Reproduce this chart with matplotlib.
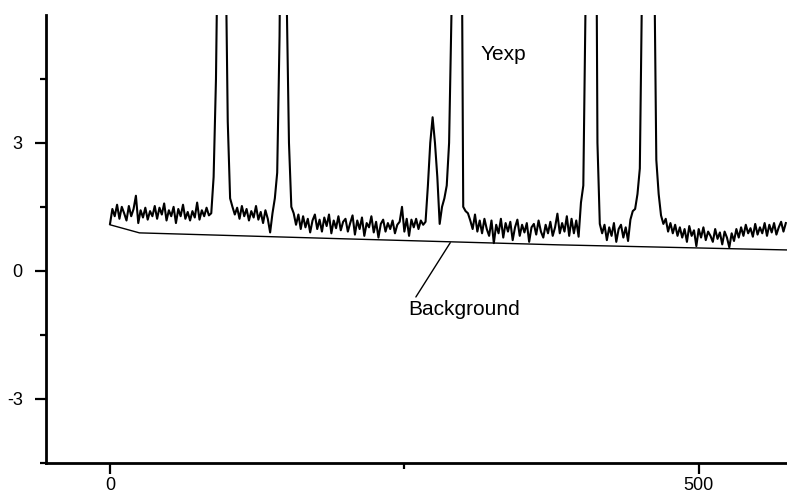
import numpy as np
from matplotlib import pyplot as plt

'''
0) data read off the picture
'''
# x step of 2 channels, 0 .. 574
x_step = 2
yexp = [1.10, 1.45, 1.28, 1.55, 1.22, 1.50, 1.35, 1.18, 1.52, 1.28,   # 0-18
        1.45, 1.76, 1.12, 1.42, 1.25, 1.48, 1.20, 1.40, 1.28, 1.52,   # 20-38
        1.22, 1.48, 1.32, 1.58, 1.18, 1.42, 1.28, 1.50, 1.12, 1.45,   # 40-58
        1.28, 1.55, 1.22, 1.38, 1.18, 1.40, 1.25, 1.60, 1.20, 1.42,   # 60-78
        1.28, 1.48, 1.30, 1.35, 2.20, 4.50, 9.00, 14.0, 14.0, 8.00,   # 80-98
        3.50, 1.70, 1.50, 1.32, 1.48, 1.22, 1.52, 1.28, 1.45, 1.18,   # 100-118
        1.40, 1.25, 1.52, 1.20, 1.38, 1.12, 1.42, 1.22, 0.90, 1.35,   # 120-138
        1.70, 2.30, 5.50, 12.0, 13.0, 6.50, 3.00, 1.50, 1.35, 1.08,   # 140-158
        1.32, 0.98, 1.28, 1.02, 1.22, 0.90, 1.18, 1.32, 0.98, 1.20,   # 160-178
        0.92, 1.25, 1.05, 1.32, 0.88, 1.18, 1.00, 1.28, 0.95, 1.15,   # 180-198
        1.22, 0.92, 1.12, 1.30, 0.85, 1.18, 0.98, 1.25, 0.82, 1.12,   # 200-218
        1.02, 1.28, 0.90, 1.15, 0.78, 1.10, 1.20, 0.92, 1.12, 0.98,   # 220-238
        1.18, 0.88, 1.08, 1.15, 1.50, 0.92, 1.22, 0.82, 1.20, 1.02,   # 240-258
        1.22, 0.98, 1.18, 1.08, 1.15, 2.00, 3.00, 3.60, 3.00, 2.20,   # 260-278
        1.10, 1.50, 1.70, 2.00, 3.00, 6.00, 14.0, 18.0, 18.0, 12.0,   # 280-298
        1.50, 1.40, 1.35, 1.18, 0.98, 1.32, 0.92, 1.18, 0.88, 1.22,   # 300-318
        0.98, 0.82, 1.18, 0.65, 1.08, 0.88, 1.22, 0.78, 1.12, 0.92,   # 320-338
        1.15, 0.72, 1.02, 1.20, 0.82, 1.08, 0.90, 1.12, 0.68, 1.02,   # 340-358
        1.10, 0.85, 1.18, 0.92, 0.78, 1.08, 0.88, 1.15, 0.82, 1.02,   # 360-378
        1.34, 0.88, 1.12, 0.92, 1.28, 0.82, 1.22, 0.88, 1.18, 0.80,   # 380-398
        1.60, 2.00, 6.50, 14.0, 18.0, 18.0, 14.0, 3.00, 1.10, 0.88,   # 400-418
        1.08, 0.72, 1.02, 0.82, 1.12, 0.68, 0.98, 1.08, 0.78, 1.02,   # 420-438
        0.70, 1.20, 1.40, 1.45, 1.80, 2.40, 7.00, 15.0, 20.0, 20.0,   # 440-458
        15.0, 8.00, 2.60, 1.80, 1.30, 1.10, 1.22, 0.92, 1.12, 0.88,   # 460-478
        1.08, 0.82, 1.02, 0.78, 0.98, 0.68, 1.05, 0.82, 0.95, 0.58,   # 480-498
        0.98, 0.78, 1.02, 0.72, 0.92, 0.82, 0.68, 0.98, 0.75, 0.90,   # 500-518
        0.62, 0.92, 0.78, 0.55, 0.88, 0.70, 0.98, 0.78, 1.02, 0.82,   # 520-538
        1.08, 0.88, 1.00, 0.80, 1.10, 0.85, 1.02, 0.88, 1.12, 0.82,   # 540-558
        1.08, 0.90, 1.12, 0.85, 1.02, 1.15, 0.92, 1.12]               # 560-574

bg_x = [0, 25, 200, 380, 575]
bg_y = [1.08, 0.89, 0.75, 0.61, 0.49]

x_ticks = [0, 500]
x_minor = [250]
y_ticks = [-3, 0, 3]
y_minor = [-4.5, -1.5, 1.5, 4.5]

'''
1) plotting
'''
plt.rcParams['font.family'] = ['Liberation Sans', 'DejaVu Sans']
plt.rcParams['axes.unicode_minus'] = False

fig = plt.figure(figsize=(7.87, 4.94), dpi=100)
ax = fig.add_axes([0.059, 0.063, 0.941, 0.907])

xx = np.arange(len(yexp)) * x_step
ax.plot(xx, yexp, color='k', lw=1.5)
ax.plot(bg_x, bg_y, color='k', lw=1.0)

ax.set_xlim(-54, 575)
ax.set_ylim(-4.5, 6)

ax.spines['top'].set_visible(False)
ax.spines['right'].set_visible(False)
ax.spines['left'].set_linewidth(2)
ax.spines['bottom'].set_linewidth(2)

ax.set_xticks(x_ticks)
ax.set_xticks(x_minor, minor=True)
ax.set_yticks(y_ticks)
ax.set_yticks(y_minor, minor=True)
ax.set_xticklabels([str(v) for v in x_ticks])
ax.set_yticklabels([str(v) for v in y_ticks])
ax.tick_params(which='major', length=8, width=1.6, labelsize=13)
ax.tick_params(which='minor', length=4.5, width=1.6)
ax.tick_params(axis='y', pad=9)
ax.tick_params(axis='x', pad=2)

ax.text(334, 5.06, 'Yexp', fontsize=15, ha='center', va='center')
ax.annotate('Background', xy=(289, 0.66), xytext=(301, -0.9),
            fontsize=15, ha='center', va='center',
            arrowprops=dict(arrowstyle='-', color='k', lw=1.0,
                            shrinkA=0, shrinkB=0,
                            relpos=(0.05, 1.0)))

plt.savefig('out.png', dpi=100)
